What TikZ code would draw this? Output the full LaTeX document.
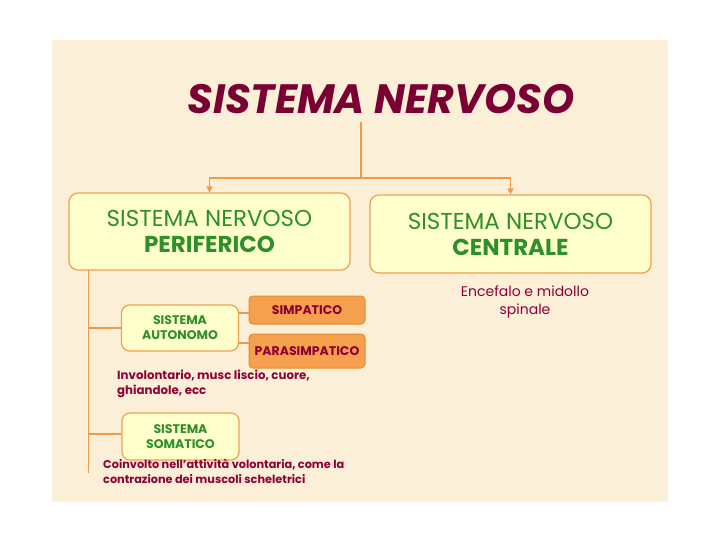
\documentclass[tikz,border=0pt]{standalone}
\usepackage{fontspec}
\setmainfont{Poppins}
\usetikzlibrary{arrows.meta}
\definecolor{panel}{HTML}{FBEFD8}
\definecolor{lineor}{HTML}{EE9A4A}
\definecolor{boxfill}{HTML}{FFFFCC}
\definecolor{boxdraw}{HTML}{F0A050}
\definecolor{orfill}{HTML}{F5A04C}
\definecolor{ordraw}{HTML}{E68A34}
\definecolor{txtgreen}{HTML}{2F8F2A}
\definecolor{maroon}{HTML}{8E0036}
\definecolor{titlecol}{HTML}{7A0034}
\begin{document}
\begin{tikzpicture}[x=1pt,y=-1pt,
  conn/.style={draw=lineor,line width=1.8pt},
  thin conn/.style={draw=lineor,line width=1.3pt},
  arr/.style={conn,-{Triangle[length=6pt,width=6pt]}},
  bigbox/.style={draw=boxdraw,fill=boxfill,line width=1.2pt,rounded corners=9pt,
     minimum width=281pt,minimum height=77pt,align=center,text=txtgreen,font=\fontsize{23}{26}\selectfont},
  smallbox/.style={draw=boxdraw,fill=boxfill,line width=1.2pt,rounded corners=8pt,
     minimum width=117pt,minimum height=46pt,align=center,text=txtgreen,font=\fontsize{12.5}{15}\selectfont\bfseries},
  orbox/.style={draw=ordraw,fill=orfill,line width=1pt,rounded corners=4pt,
     minimum width=116pt,align=center,text=maroon,font=\fontsize{12.5}{14}\selectfont\bfseries},
  note/.style={text=maroon,font=\fontsize{11.3}{15}\selectfont\bfseries,inner sep=0pt}
]
\useasboundingbox (0,0) rectangle (720,540);
\fill[white] (0,0) rectangle (720,540);
\fill[panel] (52,40) rectangle (668,502);

\node[text=titlecol,font=\fontsize{41}{44}\selectfont\bfseries\itshape,inner sep=0pt] (title) at (381,99) {SISTEMA NERVOSO};

\node[bigbox] (per) at (209.5,231.5) {SISTEMA NERVOSO\\\textbf{PERIFERICO}};
\node[bigbox,minimum height=78pt] (cen) at (510.5,234) {SISTEMA NERVOSO\\\textbf{CENTRALE}};

\coordinate (t) at (361,122);
\coordinate (j) at (361,178);
\draw[conn] (t) -- (j);
\draw[arr] (j) -| (per.north);
\draw[arr] (j) -| (cen.north);

\node[note,align=center,font=\fontsize{14}{18}\selectfont] (enc) at (525,302) {Encefalo e midollo\\spinale};

\node[smallbox] (aut) at (180,328) {SISTEMA\\AUTONOMO};
\node[orbox,minimum height=28pt] (simp) at (307,310) {SIMPATICO};
\node[orbox,minimum height=34pt] (para) at (307,351) {PARASIMPATICO};
\node[smallbox,minimum height=47pt] (som) at (180.5,436.5) {SISTEMA\\SOMATICO};

\coordinate (v0) at (88.5,270);
\coordinate (v1) at (88.5,473);
\draw[thin conn] (v0) -- (v1);
\draw[thin conn] (aut.west -| v0) -- (aut.west);
\draw[thin conn] (88.5,434) -- (som.west |- 0,434);
\draw[thin conn] (aut.east |- 0,313) -- (simp.west |- 0,313);
\draw[thin conn] (aut.east |- 0,343) -- (para.west |- 0,343);

\node[note,anchor=north west,align=left,font=\fontsize{11.8}{15}\selectfont\bfseries] (inv) at (117,370) {Involontario, musc liscio, cuore,\\ghiandole, ecc};
\node[note,anchor=north west,align=left] (coin) at (103,459) {Coinvolto nell'attività volontaria, come la\\contrazione dei muscoli scheletrici};
\end{tikzpicture}
\end{document}
